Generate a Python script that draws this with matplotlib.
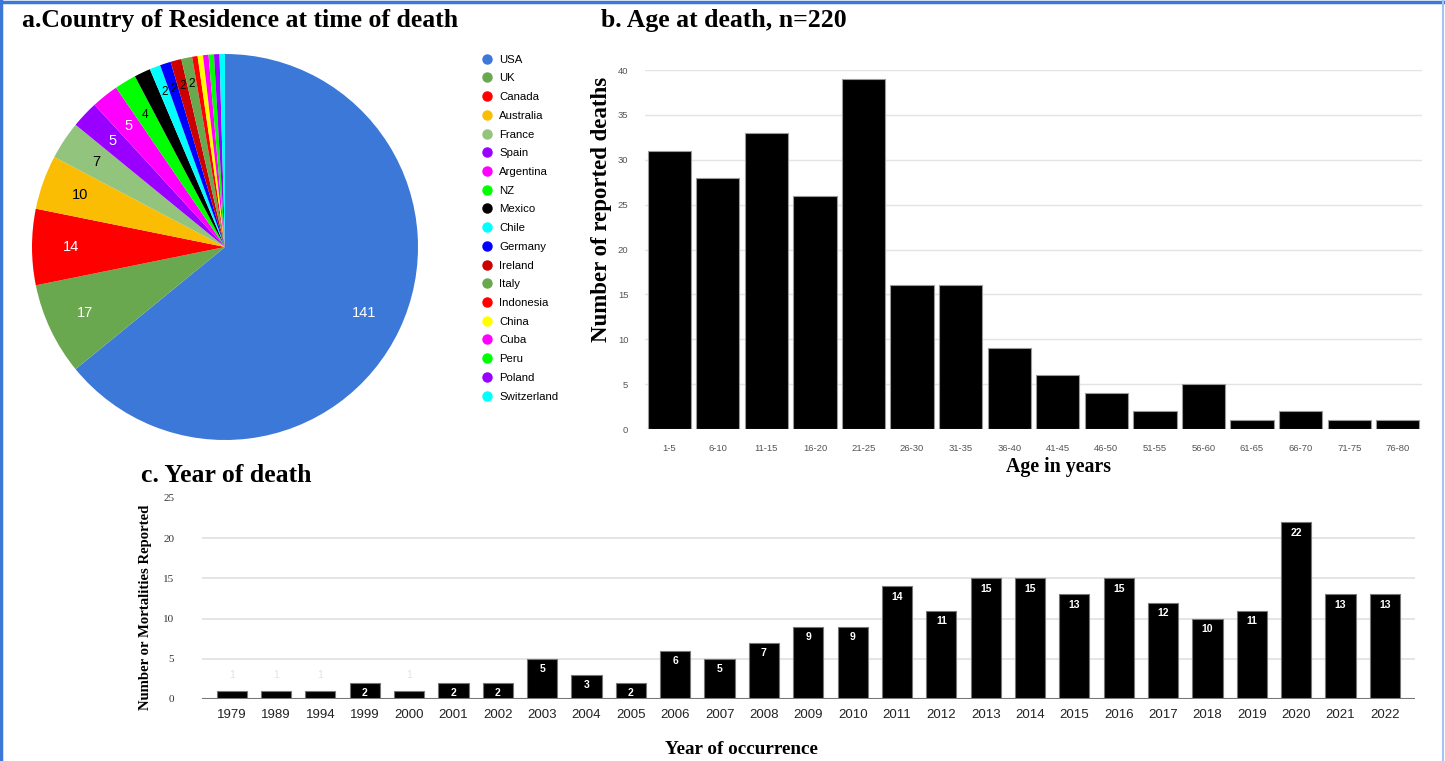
import numpy as np
import matplotlib
matplotlib.use('Agg')
import matplotlib.pyplot as plt
from matplotlib.lines import Line2D

# Datos
paises = ['USA', 'UK', 'Canada', 'Australia', 'France', 'Spain', 'Argentina', 'NZ',
          'Mexico', 'Chile', 'Germany', 'Ireland', 'Italy', 'Indonesia', 'China',
          'Cuba', 'Peru', 'Poland', 'Switzerland']
muertes_pais = [141, 17, 14, 10, 7, 5, 5, 4, 3, 2, 2, 2, 2, 1, 1, 1, 1, 1, 1]
colores_pais = ['#3c78d8', '#6aa84f', '#ff0000', '#fbbc04', '#93c47d', '#9900ff', '#ff00ff',
                '#00ff00', '#000000', '#00ffff', '#0000ff', '#cc0000', '#6aa84f', '#ff0000',
                '#ffff00', '#ff00ff', '#00ff00', '#9900ff', '#00ffff']
color_etiqueta = ['white', 'white', 'white', 'black', 'black', 'white', 'white', 'black',
                  'black', 'black', 'black', 'black', 'black']

edades = ['1-5', '6-10', '11-15', '16-20', '21-25', '26-30', '31-35', '36-40',
          '41-45', '46-50', '51-55', '56-60', '61-65', '66-70', '71-75', '76-80']
muertes_edad = [31, 28, 33, 26, 39, 16, 16, 9, 6, 4, 2, 5, 1, 2, 1, 1]

anios = ['1979', '1989', '1994', '1999', '2000', '2001', '2002', '2003', '2004', '2005',
         '2006', '2007', '2008', '2009', '2010', '2011', '2012', '2013', '2014', '2015',
         '2016', '2017', '2018', '2019', '2020', '2021', '2022']
muertes_anio = [1, 1, 1, 2, 1, 2, 2, 5, 3, 2, 6, 5, 7, 9, 9, 14, 11, 15, 15, 13,
                15, 12, 10, 11, 22, 13, 13]

W, H = 1445, 761
serif = 'Liberation Serif'
sans = 'Liberation Sans'

fig = plt.figure(figsize=(W/100, H/100), dpi=100)

def caja(x0, y0, x1, y1):
    # pixeles (arriba-izquierda) a fraccion de figura
    return [x0/W, 1 - y1/H, (x1 - x0)/W, (y1 - y0)/H]

#=============================================================================
# a. Pais de residencia
ax1 = fig.add_axes(caja(32, 54, 418, 440))
cunas, _ = ax1.pie(muertes_pais, colors=colores_pais, startangle=90, counterclock=False,
                   radius=1, wedgeprops=dict(linewidth=0))
ax1.set_xlim(-1, 1)
ax1.set_ylim(-1, 1)
ax1.set_aspect('equal')
for i, c in enumerate(cunas):
    v = muertes_pais[i]
    if v < 2:
        continue
    ang = np.deg2rad((c.theta1 + c.theta2) / 2)
    r = 0.8 if v > 2 else 0.86
    fs = 10.5 if v > 4 else 8.5
    ax1.text(r*np.cos(ang), r*np.sin(ang), str(v), ha='center', va='center',
             color=color_etiqueta[i], fontsize=fs, family=sans)

marcas = [Line2D([0], [0], marker='o', linestyle='', markersize=6.5,
                 markerfacecolor=col, markeredgecolor=col) for col in colores_pais]
fig.legend(marcas, paises, loc='upper left', bbox_to_anchor=(477/W, 1 - 49/H),
           frameon=False, prop={'family': sans, 'size': 8.2}, handlelength=0.8,
           handletextpad=0.65, labelspacing=0.765, borderpad=0)

fig.text(22/W, 1 - 20/H, 'a.Country of Residence at time of death', family=serif,
         fontweight='bold', fontsize=18.5, va='center', ha='left')

#=============================================================================
# b. Edad al morir
ax2 = fig.add_axes(caja(645, 70, 1422, 429))
x2 = np.arange(len(edades))
ax2.bar(x2, muertes_edad, width=0.89, color='black', edgecolor='#9a9a9a', linewidth=0.8,
        zorder=3)
ax2.set_xlim(-0.5, len(edades) - 0.5)
ax2.set_ylim(0, 40)
ax2.set_yticks(np.arange(0, 41, 5))
ax2.set_xticks(x2)
ax2.set_xticklabels(edades)
ax2.grid(axis='y', color='#e4e4e4', linewidth=1, zorder=0)
for s in ax2.spines.values():
    s.set_visible(False)
ax2.tick_params(axis='both', length=0, labelcolor='#555555', labelsize=6.8)
ax2.tick_params(axis='x', pad=11)
ax2.tick_params(axis='y', pad=12)
for t in ax2.get_xticklabels() + ax2.get_yticklabels():
    t.set_family(sans)

fig.text(601/W, 1 - 20/H, 'b. Age at death, n=220', family=serif, fontweight='bold',
         fontsize=18.5, va='center', ha='left')
fig.text(602/W, 1 - 209/H, 'Number of reported deaths', family=serif, fontweight='bold',
         fontsize=16.5, rotation=90, va='center', ha='center')
fig.text(1058/W, 1 - 467/H, 'Age in years', family=serif, fontweight='bold',
         fontsize=14.3, va='center', ha='center')

#=============================================================================
# c. Anio de muerte
ax3 = fig.add_axes(caja(202, 498, 1415, 699))
x3 = np.arange(len(anios))
ax3.bar(x3, muertes_anio, width=0.68, color='black', edgecolor='#777777', linewidth=0.8,
        zorder=3)
ax3.set_xlim(-0.67, len(anios) - 0.32)
ax3.set_ylim(0, 25)
ax3.set_yticks(np.arange(0, 26, 5))
ax3.set_xticks(x3)
ax3.set_xticklabels(anios)
ax3.grid(axis='y', color='#e0e0e0', linewidth=1.2, zorder=0)
ax3.yaxis.get_gridlines()[-1].set_visible(False)
for s in ax3.spines.values():
    s.set_visible(False)
ax3.axhline(0, color='#777777', linewidth=1.5, zorder=4)
ax3.tick_params(axis='both', length=0)
ax3.tick_params(axis='x', pad=7, labelsize=9.5, labelcolor='#222222')
ax3.tick_params(axis='y', pad=20, labelsize=8, labelcolor='#333333')
for t in ax3.get_xticklabels():
    t.set_family(sans)
for t in ax3.get_yticklabels():
    t.set_family(serif)
for i, v in enumerate(muertes_anio):
    if v == 1:
        ax3.text(x3[i], v + 2, str(v), ha='center', va='center', color='#e2e2e2',
                 fontsize=7.5, family=sans)
    else:
        ax3.annotate(str(v), (x3[i], v), xytext=(0, -7.5), textcoords='offset points',
                     ha='center', va='center', color='white', fontsize=7.5,
                     fontweight='bold', family=sans, zorder=5)

fig.text(141/W, 1 - 475/H, 'c. Year of death', family=serif, fontweight='bold',
         fontsize=18.5, va='center', ha='left')
fig.text(145/W, 1 - 607/H, 'Number or Mortalities Reported', family=serif,
         fontweight='bold', fontsize=10.6, rotation=90, va='center', ha='center')
fig.text(741/W, 1 - 750/H, 'Year of occurrence', family=serif, fontweight='bold',
         fontsize=13.8, va='center', ha='center')

# Marco
fig.add_artist(Line2D([0.001, 0.001], [0, 1], color='#3c78d8', linewidth=2.5,
                      transform=fig.transFigure))
fig.add_artist(Line2D([0, 1], [0.998, 0.998], color='#3c78d8', linewidth=2.5,
                      transform=fig.transFigure))
fig.add_artist(Line2D([0.9985, 0.9985], [0, 1], color='#a4c2f4', linewidth=1.5,
                      transform=fig.transFigure))

fig.savefig('out.png', dpi=100)
